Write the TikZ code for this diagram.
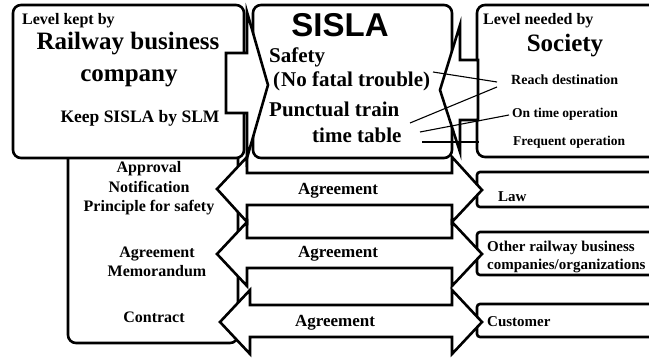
\documentclass[tikz,border=0pt]{standalone}
\usepackage{fontspec}
\setmainfont{Liberation Serif}
\newfontfamily\sislafont{Liberation Sans}
\newcommand{\myfs}[1]{\fontsize{#1}{#1}\selectfont}
\tikzset{
  box/.style={draw, line width=2.6pt, rounded corners=8pt, fill=white},
  sqbox/.style={draw, line width=2.6pt, rounded corners=3pt, fill=white},
  arr/.style={draw, line width=2.6pt, fill=white, line join=miter, miter limit=20},
  txt/.style={inner sep=0pt, font=\bfseries},
  link/.style={line width=1.1pt},
}
\begin{document}
\begin{tikzpicture}[x=1pt,y=-1pt]
\useasboundingbox (0,0) rectangle (649,358);
\clip (0,0) rectangle (649,358);
% boxes
\draw[box] (68,140) rectangle (238,343);
\draw[box] (13,5) rectangle (244,158);
\draw[box] (253,5) rectangle (452,158);
\draw[box] (477,5) rectangle (680,157);
\draw[sqbox] (477,172) rectangle (680,207);
\draw[sqbox] (477,232) rectangle (680,275);
\draw[sqbox] (477,304) rectangle (680,337);
% lower double arrows
\draw[arr] (217,189) -- (247,157) -- (247,173) -- (452,173) -- (452,157) -- (482,190)
  -- (452,222) -- (452,205) -- (247,205) -- (247,222) -- cycle;
\draw[arr] (217,254) -- (247,222) -- (247,238) -- (452,238) -- (452,222) -- (482,254)
  -- (452,286) -- (452,268) -- (247,268) -- (247,286) -- cycle;
\draw[arr] (220,322) -- (250,290) -- (250,305) -- (452,305) -- (452,290) -- (482,322)
  -- (452,354) -- (452,337) -- (250,337) -- (250,354) -- cycle;
% top converging arrows
\draw[arr] (226,53) -- (247,53) -- (247,12) -- (268,85) -- (247,158) -- (247,113) -- (226,113) -- cycle;
\draw[arr] (478,60) -- (460,60) -- (460,25) -- (440,90) -- (460,152) -- (460,120) -- (478,120) -- cycle;
% left top texts
\node[txt, anchor=base west, font=\bfseries\myfs{16}] (kept) at (22,25) {Level kept by};
\node[txt, anchor=base, font=\bfseries\myfs{25}] (rail) at (128,50) {Railway business};
\node[txt, anchor=base, font=\bfseries\myfs{25}] (comp) at (129,82) {company};
\node[txt, anchor=base, font=\bfseries\myfs{17.5}] (keep) at (140,123) {Keep SISLA by SLM};
% SISLA texts
\node[txt, anchor=base, font=\sislafont\bfseries\myfs{33}] (sisla) at (340,37) {SISLA};
\node[txt, anchor=base west, font=\bfseries\myfs{21}] (safety) at (269,63) {Safety};
\node[txt, anchor=base west, font=\bfseries\myfs{21}] (fatal) at (273,87) {(\kern1pt No fatal trouble)};
\node[txt, anchor=base west, font=\bfseries\myfs{21}] (punct) at (269,117) {Punctual train};
\node[txt, anchor=base west, font=\bfseries\myfs{21}] (ttable) at (312,143) {time table};
% Society texts
\node[txt, anchor=base west, font=\bfseries\myfs{16}] (needed) at (483,25) {Level needed by};
\node[txt, anchor=base, font=\bfseries\myfs{25}] (society) at (565,52) {Society};
\node[txt, anchor=base west, font=\bfseries\myfs{14}] (reach) at (511,85) {Reach destination};
\node[txt, anchor=base west, font=\bfseries\myfs{13.5}] (ontime) at (512,118) {On time operation};
\node[txt, anchor=base west, font=\bfseries\myfs{13.5}] (freq) at (513,146) {Frequent operation};
% lower left texts
\node[txt, anchor=base, font=\bfseries\myfs{16}] (appr) at (149,173) {Approval};
\node[txt, anchor=base, font=\bfseries\myfs{16}] (notif) at (149,193) {Notification};
\node[txt, anchor=base, font=\bfseries\myfs{16}] (princ) at (149,212) {Principle for safety};
\node[txt, anchor=base, font=\bfseries\myfs{16}] (agrl) at (157,258) {Agreement};
\node[txt, anchor=base, font=\bfseries\myfs{16}] (memo) at (157,277) {Memorandum};
\node[txt, anchor=base, font=\bfseries\myfs{16}] (contr) at (154,323) {Contract};
% arrow labels
\node[txt, anchor=base, font=\bfseries\myfs{17}] (ag1) at (338,195) {Agreement};
\node[txt, anchor=base, font=\bfseries\myfs{17}] (ag2) at (338,258) {Agreement};
\node[txt, anchor=base, font=\bfseries\myfs{17}] (ag3) at (335,327) {Agreement};
% right lower texts
\node[txt, anchor=base west, font=\bfseries\myfs{15}] (law) at (498,202) {Law};
\node[txt, anchor=base west, font=\bfseries\myfs{15}] (other) at (487,252) {Other railway business};
\node[txt, anchor=base west, font=\bfseries\myfs{15}] (orgs) at (487,270) {companies/organizations};
\node[txt, anchor=base west, font=\bfseries\myfs{15}] (cust) at (487,327) {Customer};
% links
\coordinate (p1) at (433,72); \coordinate (q1) at (497,82);
\coordinate (p2) at (410,123); \coordinate (q2) at (497,87);
\coordinate (p3) at (420,132); \coordinate (q3) at (509,115);
\coordinate (p4) at (422,142); \coordinate (q4) at (479,142);
\draw[link] (p1) -- (q1);
\draw[link] (p2) -- (q2);
\draw[link] (p3) -- (q3);
\draw[link] (p4) -- (q4);
\end{tikzpicture}
\end{document}
